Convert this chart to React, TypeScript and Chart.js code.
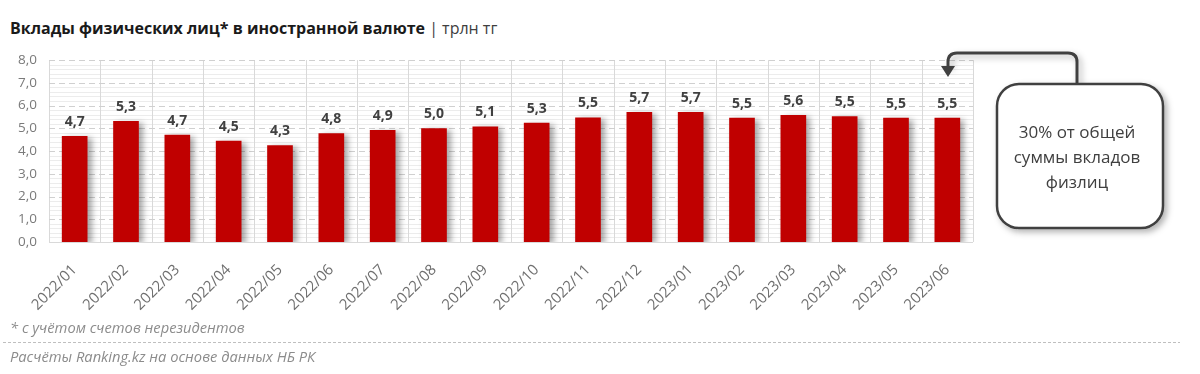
import React, { useEffect, useRef } from "react";
import { Chart, registerables } from "chart.js";

Chart.register(...registerables);

const categories = [
  "2022/01", "2022/02", "2022/03", "2022/04", "2022/05", "2022/06",
  "2022/07", "2022/08", "2022/09", "2022/10", "2022/11", "2022/12",
  "2023/01", "2023/02", "2023/03", "2023/04", "2023/05", "2023/06",
];
const deposits = [
  4.66, 5.32, 4.72, 4.45, 4.26, 4.78, 4.93, 5.0, 5.08, 5.25, 5.48, 5.72,
  5.72, 5.46, 5.59, 5.53, 5.46, 5.46,
];
const yTicks = [0, 1, 2, 3, 4, 5, 6, 7, 8];
const minorStep = 0.2;

const title = "Вклады физических лиц* в иностранной валюте";
const unit = "трлн тг";
const calloutLines = ["30% от общей", "суммы вкладов", "физлиц"];
const footnote = "* с учётом счетов нерезидентов";
const source = "Расчёты Ranking.kz на основе данных НБ РК";

const FONT = "'Open Sans', 'Noto Sans', sans-serif";

const fmt = (v: number) => v.toFixed(1).replace(".", ",");

const gridPlugin = {
  id: "excelGrid",
  beforeDatasetsDraw(chart: any) {
    const { ctx, chartArea, scales } = chart;
    const y = scales.y;
    const x = scales.x;
    ctx.save();
    ctx.strokeStyle = "#ececec";
    ctx.lineWidth = 1;
    const max = yTicks[yTicks.length - 1];
    for (let v = 0; v <= max + 1e-9; v += minorStep) {
      const r = Math.round(v * 10) / 10;
      if (Math.abs(r - Math.round(r)) < 1e-6) continue;
      const py = Math.round(y.getPixelForValue(r)) + 0.5;
      ctx.beginPath();
      ctx.moveTo(chartArea.left, py);
      ctx.lineTo(chartArea.right, py);
      ctx.stroke();
    }
    ctx.strokeStyle = "#d9d9d9";
    const n = categories.length;
    const half = (x.getPixelForValue(1) - x.getPixelForValue(0)) / 2;
    for (let i = 0; i <= n; i++) {
      const px = i < n ? x.getPixelForValue(i) - half : chartArea.right;
      const p = Math.round(px) + 0.5;
      ctx.beginPath();
      ctx.moveTo(p, chartArea.top);
      ctx.lineTo(p, chartArea.bottom);
      ctx.stroke();
    }
    ctx.strokeStyle = "#d0d0d0";
    ctx.setLineDash([6, 4]);
    for (const t of yTicks) {
      if (t === 0) continue;
      const py = Math.round(y.getPixelForValue(t)) + 0.5;
      ctx.beginPath();
      ctx.moveTo(chartArea.left, py);
      ctx.lineTo(chartArea.right, py);
      ctx.stroke();
    }
    ctx.setLineDash([]);
    ctx.strokeStyle = "#d9d9d9";
    const by = Math.round(y.getPixelForValue(0)) + 0.5;
    ctx.beginPath();
    ctx.moveTo(chartArea.left, by);
    ctx.lineTo(chartArea.right, by);
    ctx.stroke();
    ctx.restore();
  },
  beforeDatasetDraw(chart: any) {
    const ctx = chart.ctx;
    ctx.save();
    ctx.shadowColor = "rgba(0,0,0,0.35)";
    ctx.shadowBlur = 6;
    ctx.shadowOffsetX = 4;
    ctx.shadowOffsetY = 2;
  },
  afterDatasetDraw(chart: any) {
    chart.ctx.restore();
  },
  afterDatasetsDraw(chart: any) {
    const { ctx } = chart;
    const meta = chart.getDatasetMeta(0);
    ctx.save();
    ctx.fillStyle = "#404040";
    ctx.font = `bold 14px ${FONT}`;
    ctx.textAlign = "center";
    ctx.textBaseline = "bottom";
    meta.data.forEach((bar: any, i: number) => {
      ctx.fillText(fmt(deposits[i]), bar.x, bar.y - 7);
    });
    ctx.restore();
  },
};

function BarChart() {
  const ref = useRef<HTMLCanvasElement | null>(null);
  useEffect(() => {
    if (!ref.current) return;
    const chart = new Chart(ref.current, {
      type: "bar",
      data: {
        labels: categories,
        datasets: [
          {
            data: deposits,
            backgroundColor: "#C00000",
            borderWidth: 0,
            barPercentage: 0.5,
            categoryPercentage: 1,
          },
        ],
      },
      options: {
        animation: false,
        responsive: false,
        maintainAspectRatio: false,
        layout: { padding: { top: 19, right: 27, bottom: 0, left: 0 } },
        plugins: { legend: { display: false }, tooltip: { enabled: false } },
        scales: {
          x: {
            grid: { display: false, drawTicks: false },
            border: { display: false },
            ticks: {
              color: "#6f6f6f",
              font: { family: FONT, size: 15 },
              maxRotation: 45,
              minRotation: 45,
              padding: 19,
              autoSkip: false,
            },
            afterFit: (s: any) => {
              s.height = 78;
            },
          },
          y: {
            min: 0,
            max: 8,
            grid: { display: false, drawTicks: false },
            border: { display: false },
            ticks: {
              stepSize: 1,
              color: "#7a7a7a",
              font: { family: FONT, size: 13.5 },
              padding: 12,
              callback: (v: any) => fmt(Number(v)),
            },
            afterFit: (s: any) => {
              s.width = 49;
            },
          },
        },
      },
      plugins: [gridPlugin],
    });
    return () => chart.destroy();
  }, []);
  return (
    <canvas
      ref={ref}
      width={1000}
      height={280}
      style={{ position: "absolute", left: 0, top: 40, width: 1000, height: 280 }}
    />
  );
}

export default function App() {
  return (
    <div
      style={{
        position: "absolute",
        left: 0,
        top: 0,
        width: 1200,
        height: 374,
        background: "#fff",
        overflow: "hidden",
        fontFamily: FONT,
      }}
    >
      <div
        style={{
          position: "absolute",
          left: 10,
          top: 17,
          fontSize: 16,
          color: "#1a1a1a",
          whiteSpace: "nowrap",
          lineHeight: "22px",
        }}
      >
        <span style={{ fontWeight: 700 }}>{title}</span>
        <span style={{ color: "#404040" }}> | {unit}</span>
      </div>
      <BarChart />
      <svg
        width={1200}
        height={374}
        style={{ position: "absolute", left: 0, top: 0, pointerEvents: "none" }}
      >
        <defs>
          <filter id="sh" x="-20%" y="-20%" width="150%" height="150%">
            <feDropShadow dx="3" dy="3" stdDeviation="3" floodColor="#000" floodOpacity="0.3" />
          </filter>
        </defs>
        <path
          d="M1077 84 V62 Q1077 53 1068 53 H957 Q948 53 948 62 V68"
          fill="none"
          stroke="#404040"
          strokeWidth={3}
          filter="url(#sh)"
        />
        <path d="M941 66 L955 66 L948 77 Z" fill="#404040" />
        <rect
          x={997}
          y={84}
          width={166}
          height={144}
          rx={22}
          ry={22}
          fill="#fff"
          stroke="#404040"
          strokeWidth={2.5}
          filter="url(#sh)"
        />
        {calloutLines.map((t, i) => (
          <text
            key={i}
            x={1077}
            y={138 + i * 25}
            textAnchor="middle"
            fontFamily={FONT}
            fontSize={17}
            fill="#404040"
          >
            {t}
          </text>
        ))}
        <line x1={3} y1={342.5} x2={1180} y2={342.5} stroke="#bfbfbf" strokeDasharray="3 2" />
      </svg>
      <div
        style={{
          position: "absolute",
          left: 10,
          top: 317,
          fontSize: 14.7,
          fontStyle: "italic",
          color: "#8c8c8c",
          whiteSpace: "nowrap",
        }}
      >
        {footnote}
      </div>
      <div
        style={{
          position: "absolute",
          left: 10,
          top: 346,
          fontSize: 14.7,
          fontStyle: "italic",
          color: "#8c8c8c",
          whiteSpace: "nowrap",
        }}
      >
        {source}
      </div>
    </div>
  );
}
